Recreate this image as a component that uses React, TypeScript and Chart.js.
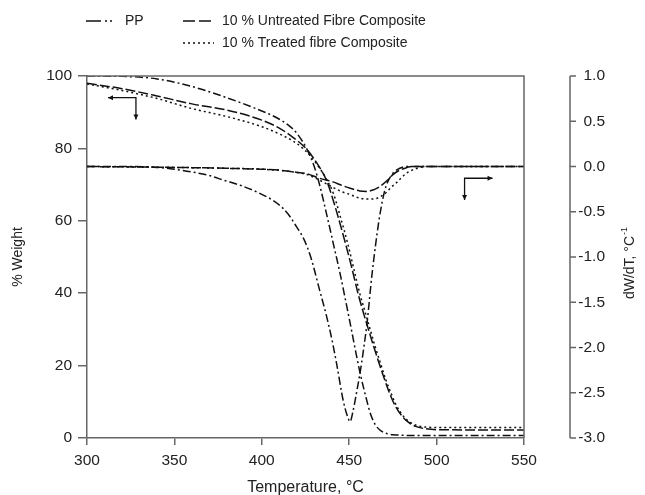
import React, { useEffect, useRef } from "react";
import { Chart, registerables } from "chart.js";

Chart.register(...registerables);

// ---------------- data ----------------
const temperatureTicks = [300, 350, 400, 450, 500, 550];
const weightTicks = [0, 20, 40, 60, 80, 100];
const dtgTicks = [-3.0, -2.5, -2.0, -1.5, -1.0, -0.5, 0.0, 0.5, 1.0];

const legendLabels = ["PP", "10 % Untreated Fibre Composite", "10 % Treated fibre Composite"];
const xTitle = "Temperature, °C";
const yTitle = "% Weight";
const y1Title = "dW/dT, °C";
const y1TitleSup = "-1";

// TGA (% weight)
const ppTgaTemp = [300, 320, 340, 360, 380, 395, 408, 415, 420, 426, 430, 433.3, 437, 441, 444.7, 450.5, 456.2, 460, 462, 465, 467.6, 471, 475, 490, 550];
const ppTgaWeight = [100, 99.9, 99.2, 97.1, 94, 91.3, 88.6, 86.5, 84.2, 79.6, 75, 69.5, 62, 53.5, 45.6, 31.8, 18, 10.5, 6.9, 3.6, 2.2, 1.3, 0.9, 0.7, 0.7];

const untreatedTgaTemp = [300, 320, 340, 360, 380, 400, 410, 418, 424, 428, 433, 437, 440, 444, 448, 452, 455, 458, 461, 464, 467, 470, 473, 476, 480, 484, 488, 493, 500, 550];
const untreatedTgaWeight = [98, 96.5, 94.5, 92.3, 90.6, 87.8, 85.6, 83, 80.6, 78.4, 74.8, 71.2, 67, 60.5, 53.5, 46, 40, 34.8, 30, 25.3, 20.8, 16.5, 12.5, 9.2, 6.2, 4.3, 3.2, 2.6, 2.3, 2.2];

const treatedTgaTemp = [300, 320, 340, 360, 380, 400, 410, 418, 424, 428, 433, 437, 441, 445, 449, 453, 456, 459, 462, 465, 468, 471, 474, 477, 481, 485, 489, 494, 500, 550];
const treatedTgaWeight = [97.8, 96, 93.8, 91, 88.8, 86, 84, 82, 79.8, 77.8, 74.6, 71.5, 67.5, 61, 54, 46, 40, 35, 30, 25, 20.5, 16, 12.3, 9, 6, 4.3, 3.4, 3, 2.9, 2.9];

// DTG (dW/dT)
const ppDtgTemp = [300, 320, 340, 350, 360, 370, 378, 388, 397, 406, 412, 416, 420, 424, 428, 433, 437, 440.2, 443, 446.5, 449, 450.5, 452, 454, 456.2, 458, 460.2, 463, 465, 467, 469, 471, 474, 477, 483, 550];
const ppDtgValue = [0, 0, -0.01, -0.03, -0.06, -0.1, -0.15, -0.21, -0.28, -0.37, -0.46, -0.55, -0.67, -0.8, -1.0, -1.36, -1.65, -1.92, -2.2, -2.58, -2.76, -2.82, -2.72, -2.52, -2.28, -2.05, -1.73, -1.2, -0.88, -0.6, -0.38, -0.22, -0.1, -0.04, 0, 0];

const untreatedDtgTemp = [300, 350, 380, 400, 410, 418, 426, 433, 440.7, 446, 450.5, 456, 460, 463.6, 466, 469, 472, 475, 478, 481, 486.5, 550];
const untreatedDtgValue = [0, -0.01, -0.02, -0.03, -0.04, -0.06, -0.08, -0.13, -0.17, -0.21, -0.24, -0.27, -0.275, -0.26, -0.24, -0.2, -0.15, -0.09, -0.05, -0.025, 0, 0];

const treatedDtgTemp = [300, 350, 380, 400, 418, 426, 433, 440.7, 446, 450.5, 456, 461, 466, 469, 471.6, 474, 477, 480, 483, 486, 489, 494, 550];
const treatedDtgValue = [0, -0.01, -0.02, -0.03, -0.06, -0.09, -0.15, -0.23, -0.28, -0.31, -0.35, -0.36, -0.35, -0.32, -0.28, -0.23, -0.18, -0.12, -0.07, -0.04, -0.02, 0, 0];

// axis-indicator arrows (data coordinates)
const leftArrowCorner = [328, 94];
const leftArrowTips = [312, 88];
const rightArrowCorner = [516, -0.13];
const rightArrowTips = [532, -0.37];

// ---------------- styles ----------------
const FONT = "'Liberation Sans', Arial, 'DejaVu Sans', sans-serif";
const TEXT = "#222";
const AXIS = "#666";
const LINE = "#111";
const PP_DASH = [8, 3, 2, 3];
const UNTREATED_DASH = [10, 3];
const TREATED_DASH = [2, 3];

const pts = (xs: number[], ys: number[]) => xs.map((v, i) => ({ x: v, y: ys[i] }));

function arrowHead(ctx: CanvasRenderingContext2D, x: number, y: number, dx: number, dy: number) {
  const s = 5;
  const px = -dy, py = dx;
  ctx.beginPath();
  ctx.moveTo(x, y);
  ctx.lineTo(x - dx * s + px * s * 0.5, y - dy * s + py * s * 0.5);
  ctx.lineTo(x - dx * s - px * s * 0.5, y - dy * s - py * s * 0.5);
  ctx.closePath();
  ctx.fill();
}

const decorPlugin = {
  id: "decor",
  afterDraw(chart: any) {
    const { ctx, chartArea: ca, scales } = chart;
    const xs = scales.x, ys = scales.y, y1 = scales.y1;
    ctx.save();
    // plot box top & right
    ctx.strokeStyle = AXIS;
    ctx.lineWidth = 1.5;
    ctx.setLineDash([]);
    ctx.beginPath();
    ctx.moveTo(ca.left, ca.top);
    ctx.lineTo(ca.right, ca.top);
    ctx.lineTo(ca.right, ca.bottom);
    ctx.stroke();

    // detached right axis
    const ax = ca.right + 46;
    ctx.beginPath();
    ctx.moveTo(ax, y1.getPixelForValue(dtgTicks[dtgTicks.length - 1]));
    ctx.lineTo(ax, y1.getPixelForValue(dtgTicks[0]));
    for (const t of dtgTicks) {
      const py = y1.getPixelForValue(t);
      ctx.moveTo(ax, py);
      ctx.lineTo(ax + 6, py);
    }
    ctx.stroke();

    // right title (rotated, reading bottom to top)
    ctx.fillStyle = TEXT;
    ctx.save();
    ctx.translate(630, (ca.top + ca.bottom) / 2 + 6);
    ctx.rotate(-Math.PI / 2);
    ctx.font = `14px ${FONT}`;
    const w1 = ctx.measureText(y1Title).width;
    ctx.font = `9px ${FONT}`;
    const w2 = ctx.measureText(y1TitleSup).width;
    const start = -(w1 + w2 + 1) / 2;
    ctx.textBaseline = "middle";
    ctx.textAlign = "left";
    ctx.font = `14px ${FONT}`;
    ctx.fillText(y1Title, start, 0);
    ctx.font = `9px ${FONT}`;
    ctx.fillText(y1TitleSup, start + w1 + 1, -5);
    ctx.restore();

    // legend
    ctx.strokeStyle = LINE;
    ctx.lineWidth = 1.6;
    ctx.font = `14px ${FONT}`;
    ctx.textBaseline = "middle";
    ctx.textAlign = "left";
    const row1 = 21, row2 = 43;
    ctx.setLineDash([15, 4, 2, 3, 2, 100]);
    ctx.beginPath(); ctx.moveTo(86, row1); ctx.lineTo(120, row1); ctx.stroke();
    ctx.fillText(legendLabels[0], 125, row1);
    ctx.setLineDash([12, 4]);
    ctx.beginPath(); ctx.moveTo(183, row1); ctx.lineTo(214, row1); ctx.stroke();
    ctx.fillText(legendLabels[1], 222, row1);
    ctx.setLineDash([2, 3]);
    ctx.beginPath(); ctx.moveTo(183, row2); ctx.lineTo(214, row2); ctx.stroke();
    ctx.fillText(legendLabels[2], 222, row2);

    // arrows
    ctx.setLineDash([]);
    ctx.lineWidth = 1.3;
    ctx.fillStyle = LINE;
    const lcx = xs.getPixelForValue(leftArrowCorner[0]);
    const lcy = ys.getPixelForValue(leftArrowCorner[1]);
    const ltx = xs.getPixelForValue(leftArrowTips[0]);
    const lty = ys.getPixelForValue(leftArrowTips[1]);
    ctx.beginPath();
    ctx.moveTo(ltx, lcy); ctx.lineTo(lcx, lcy); ctx.lineTo(lcx, lty);
    ctx.stroke();
    arrowHead(ctx, ltx, lcy, -1, 0);
    arrowHead(ctx, lcx, lty, 0, 1);

    const rcx = xs.getPixelForValue(rightArrowCorner[0]);
    const rcy = y1.getPixelForValue(rightArrowCorner[1]);
    const rtx = xs.getPixelForValue(rightArrowTips[0]);
    const rty = y1.getPixelForValue(rightArrowTips[1]);
    ctx.beginPath();
    ctx.moveTo(rtx, rcy); ctx.lineTo(rcx, rcy); ctx.lineTo(rcx, rty);
    ctx.stroke();
    arrowHead(ctx, rtx, rcy, 1, 0);
    arrowHead(ctx, rcx, rty, 0, 1);

    ctx.restore();
  },
};

export default function App() {
  const ref = useRef<HTMLCanvasElement | null>(null);

  useEffect(() => {
    if (!ref.current) return;
    const base = {
      borderColor: LINE,
      borderWidth: 1.5,
      pointRadius: 0,
      fill: false,
      cubicInterpolationMode: "monotone" as const,
    };
    const chart = new Chart(ref.current, {
      type: "line",
      data: {
        datasets: [
          { ...base, label: legendLabels[0], data: pts(ppTgaTemp, ppTgaWeight), borderDash: PP_DASH, yAxisID: "y" },
          { ...base, label: legendLabels[1], data: pts(untreatedTgaTemp, untreatedTgaWeight), borderDash: UNTREATED_DASH, yAxisID: "y" },
          { ...base, label: legendLabels[2], data: pts(treatedTgaTemp, treatedTgaWeight), borderDash: TREATED_DASH, yAxisID: "y" },
          { ...base, label: legendLabels[0] + " DTG", data: pts(ppDtgTemp, ppDtgValue), borderDash: PP_DASH, yAxisID: "y1" },
          { ...base, label: legendLabels[1] + " DTG", data: pts(untreatedDtgTemp, untreatedDtgValue), borderDash: UNTREATED_DASH, yAxisID: "y1" },
          { ...base, label: legendLabels[2] + " DTG", data: pts(treatedDtgTemp, treatedDtgValue), borderDash: TREATED_DASH, yAxisID: "y1" },
        ],
      },
      options: {
        responsive: false,
        animation: false,
        devicePixelRatio: 1,
        layout: { padding: { top: 76, left: 0, right: 40, bottom: 0 } },
        plugins: { legend: { display: false }, tooltip: { enabled: false } },
        scales: {
          x: {
            type: "linear",
            min: temperatureTicks[0],
            max: temperatureTicks[temperatureTicks.length - 1],
            afterBuildTicks: (s: any) => { s.ticks = temperatureTicks.map((v) => ({ value: v })); },
            ticks: { font: { family: FONT, size: 15.5 }, color: TEXT, padding: 6, maxRotation: 0 },
            grid: { drawOnChartArea: false, drawTicks: true, tickLength: 7, color: AXIS, lineWidth: 1.5 },
            border: { display: true, color: AXIS, width: 1.5 },
            title: { display: true, text: xTitle, font: { family: FONT, size: 16 }, color: TEXT, padding: { top: 0, bottom: -2 } },
            afterFit: (s: any) => { s.height = 57; },
          },
          y: {
            type: "linear",
            position: "left",
            min: weightTicks[0],
            max: weightTicks[weightTicks.length - 1],
            afterBuildTicks: (s: any) => { s.ticks = weightTicks.map((v) => ({ value: v })); },
            ticks: { font: { family: FONT, size: 15.5 }, color: TEXT, padding: 6 },
            grid: { drawOnChartArea: false, drawTicks: true, tickLength: 9, color: AXIS, lineWidth: 1.5 },
            border: { display: true, color: AXIS, width: 1.5 },
            title: { display: true, text: yTitle, font: { family: FONT, size: 14 }, color: TEXT, padding: { top: 10, bottom: 0 } },
            afterFit: (s: any) => { s.width = 87; },
          },
          y1: {
            type: "linear",
            position: "right",
            min: dtgTicks[0],
            max: dtgTicks[dtgTicks.length - 1],
            afterBuildTicks: (s: any) => { s.ticks = dtgTicks.map((v) => ({ value: v })); },
            ticks: {
              font: { family: FONT, size: 15.5 },
              color: TEXT,
              padding: 0,
              crossAlign: "far",
              callback: (v: any) => Number(v).toFixed(1),
            },
            grid: { display: false, drawTicks: false },
            border: { display: false },
            title: { display: false },
            afterFit: (s: any) => { s.width = 81; },
          },
        },
      },
      plugins: [decorPlugin],
    } as any);
    return () => chart.destroy();
  }, []);

  return (
    <div style={{ position: "fixed", left: 0, top: 0, width: 645, height: 495, background: "#fff" }}>
      <canvas ref={ref} width={645} height={495} style={{ display: "block" }} />
    </div>
  );
}
